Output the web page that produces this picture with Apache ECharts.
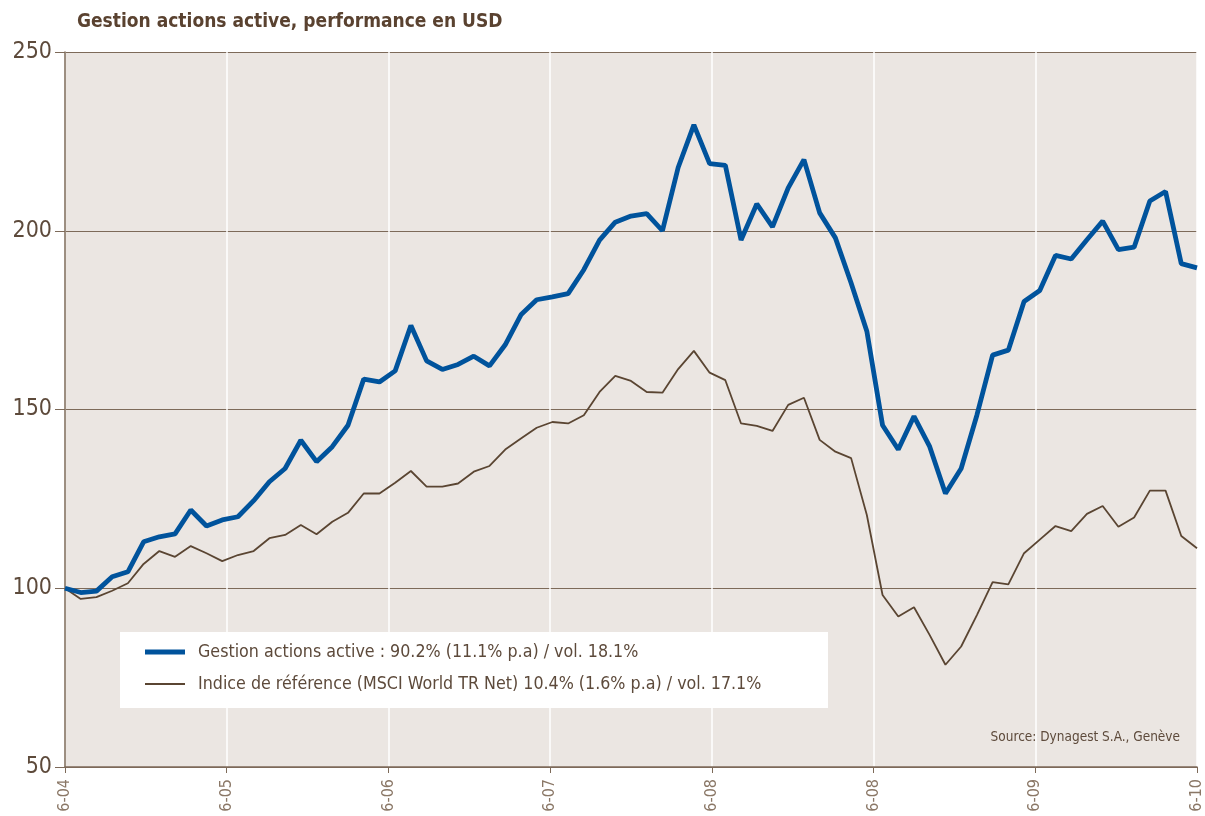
<!DOCTYPE html>
<html>
<head>
<meta charset="utf-8">
<script src="https://cdn.jsdelivr.net/npm/echarts@6/dist/echarts.min.js"></script>
<style>
html,body{margin:0;padding:0;background:#ffffff;}
#chart{width:1205px;height:816px;}
</style>
</head>
<body>
<div id="chart"></div>
<script>
// Monthly values, June 2004 .. June 2010 (base 100)
const active = [
  100.0, 98.8, 99.2, 103.2, 104.6, 113.0, 114.4, 115.2, 121.9, 117.4,
  119.1, 120.0, 124.5, 129.8, 133.5, 141.4, 135.4, 139.6, 145.6, 158.5,
  157.7, 160.8, 173.5, 163.6, 161.2, 162.6, 164.9, 162.2, 168.1, 176.5,
  180.7, 181.5, 182.4, 189.1, 197.4, 202.4, 204.1, 204.8, 200.0, 217.7,
  229.6, 218.8, 218.3, 197.4, 207.5, 201.1, 212.0, 219.9, 205.0, 198.0,
  185.4, 171.9, 145.6, 138.8, 148.1, 139.6, 126.5, 133.5, 148.4, 165.2,
  166.6, 180.2, 183.3, 193.1, 192.1, 197.5, 202.7, 194.7, 195.4, 208.3,
  211.0, 190.8, 189.6
];
const benchmark = [
  100.0, 97.0, 97.5, 99.3, 101.4, 106.8, 110.4, 108.8, 111.8, 109.8,
  107.6, 109.3, 110.4, 114.0, 114.9, 117.7, 115.1, 118.6, 121.1, 126.5,
  126.5, 129.5, 132.8, 128.4, 128.4, 129.3, 132.6, 134.2, 138.8, 141.9,
  144.9, 146.5, 146.1, 148.4, 154.9, 159.4, 158.0, 154.9, 154.7, 161.3,
  166.4, 160.3, 158.2, 146.1, 145.4, 144.0, 151.3, 153.3, 141.5, 138.2,
  136.4, 120.5, 98.1, 92.1, 94.7, 86.9, 78.6, 83.7, 92.5, 101.7,
  101.1, 109.8, 113.6, 117.4, 116.0, 120.8, 123.0, 117.2, 119.8, 127.3,
  127.3, 114.6, 111.2
];
const xTickLabels = ['6-04', '6-05', '6-06', '6-07', '6-08', '6-08', '6-09', '6-10'];
const yTicks = { min: 50, max: 250, step: 50 };
const titleText = 'Gestion actions active, performance en USD';
const legendActive = 'Gestion actions active : 90.2% (11.1% p.a) / vol. 18.1%';
const legendBench = 'Indice de référence (MSCI World TR Net) 10.4% (1.6% p.a) / vol. 17.1%';
const sourceText = 'Source: Dynagest S.A., Genève';

const FONT = "'Liberation Sans Narrow', 'DejaVu Sans Condensed', 'Liberation Sans', sans-serif";
const BROWN_TXT = '#5d4a3b';
const BLUE = '#00539c';
const BROWN = '#5a4532';
const GRID_BROWN = '#7d6a59';

const months = active.map((_, i) => i);

const chart = echarts.init(document.getElementById('chart'), null, { renderer: 'canvas' });
chart.setOption({
  animation: false,
  backgroundColor: '#ffffff',
  title: {
    text: titleText,
    left: 72, top: 8,
    textStyle: { fontFamily: FONT, fontWeight: 'bold', fontSize: 19, color: '#5a4230' }
  },
  grid: {
    left: 65, right: 5, top: 52, bottom: 49,
    show: true, backgroundColor: '#ebe6e2', borderWidth: 0
  },
  xAxis: [
    {
      type: 'category', data: months, boundaryGap: false, show: false
    },
    {
      type: 'value', min: 0, max: xTickLabels.length - 1, interval: 1,
      position: 'bottom',
      axisLine: { show: true, lineStyle: { color: GRID_BROWN, width: 1.5 } },
      axisTick: { show: true, length: 6, lineStyle: { color: GRID_BROWN, width: 1 } },
      axisLabel: {
        rotate: 90, margin: 12, fontFamily: FONT, fontSize: 16, color: '#8a7766',
        formatter: v => xTickLabels[Math.round(v)] || ''
      },
      splitLine: { show: true, lineStyle: { color: '#ffffff', width: 1.5 } }
    }
  ],
  yAxis: {
    type: 'value', min: yTicks.min, max: yTicks.max, interval: yTicks.step,
    axisLine: { show: true, lineStyle: { color: GRID_BROWN, width: 1.5 } },
    axisTick: { show: true, length: 10, lineStyle: { color: GRID_BROWN, width: 1 } },
    axisLabel: { fontFamily: FONT, fontSize: 23, color: BROWN_TXT, margin: 13 },
    splitLine: { show: true, lineStyle: { color: GRID_BROWN, width: 1 } }
  },
  series: [
    {
      name: 'bench', type: 'line', xAxisIndex: 0, data: benchmark,
      symbol: 'none', lineStyle: { color: BROWN, width: 1.8 }, z: 3
    },
    {
      name: 'active', type: 'line', xAxisIndex: 0, data: active,
      symbol: 'none', lineStyle: { color: BLUE, width: 4.8 }, z: 4
    }
  ],
  graphic: [
    { type: 'rect', shape: { x: 120, y: 632, width: 708, height: 76 }, style: { fill: '#ffffff' }, z: 10 },
    { type: 'line', shape: { x1: 145, y1: 652, x2: 185, y2: 652 }, style: { stroke: BLUE, lineWidth: 4.8 }, z: 11 },
    { type: 'text', x: 198, y: 652, style: { text: legendActive, font: "17.7px " + FONT, fill: BROWN_TXT, textVerticalAlign: 'middle' }, z: 11 },
    { type: 'line', shape: { x1: 145, y1: 684, x2: 185, y2: 684 }, style: { stroke: BROWN, lineWidth: 1.8 }, z: 11 },
    { type: 'text', x: 198, y: 684, style: { text: legendBench, font: "17.7px " + FONT, fill: BROWN_TXT, textVerticalAlign: 'middle' }, z: 11 },
    { type: 'text', x: 1180, y: 737, style: { text: sourceText, font: "13.5px " + FONT, fill: BROWN_TXT, textAlign: 'right', textVerticalAlign: 'middle' }, z: 11 }
  ]
});
</script>
</body>
</html>
